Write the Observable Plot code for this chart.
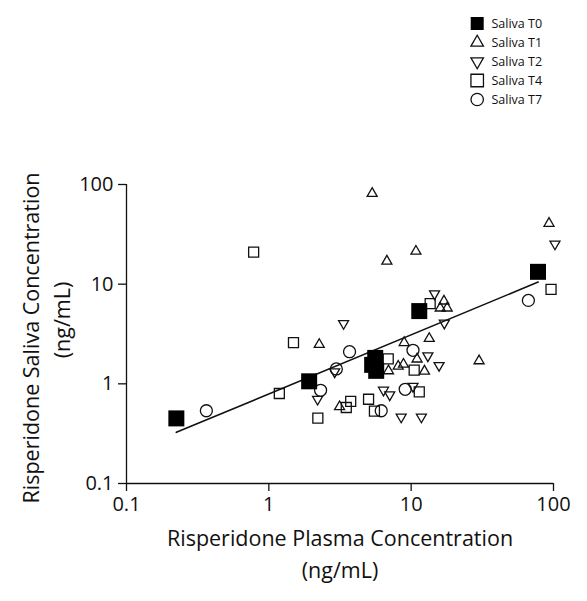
<!DOCTYPE html>
<html>
<head>
<meta charset="utf-8">
<script src="https://cdn.jsdelivr.net/npm/d3@7"></script>
<script src="https://cdn.jsdelivr.net/npm/@observablehq/plot@0.6"></script>
<style>
  html, body { margin: 0; padding: 0; background: #fff; }
  #wrap { position: relative; width: 587px; height: 601px; }
  #legend { position: absolute; left: 450px; top: 0px; line-height: 0; }
  #chart { position: absolute; left: 0; top: 0; line-height: 0; }
</style>
</head>
<body>
<div id="wrap"><div id="chart"></div><div id="legend"></div></div>
<script>
// ---- data (plasma ng/mL, saliva ng/mL) ----
const seriesNames = ["Saliva T0", "Saliva T1", "Saliva T2", "Saliva T4", "Saliva T7"];

const t0Plasma = [0.224, 1.92, 5.59, 5.32, 5.68, 11.4, 77.8];
const t0Saliva = [0.450, 1.06, 1.82, 1.55, 1.35, 5.37, 13.3];

const t1Plasma = [5.32, 10.8, 6.75, 93.0, 2.26, 30.0, 13.4, 8.93, 17.0, 16.0, 17.9, 11.0, 6.93, 8.11, 8.83, 12.4, 3.14];
const t1Saliva = [81.3, 21.4, 17.0, 40.7, 2.48, 1.70, 2.85, 2.59, 6.76, 5.75, 5.75, 1.77, 1.35, 1.50, 1.57, 1.34, 0.589];

const t2Plasma = [102.4, 3.35, 14.6, 17.1, 2.90, 2.20, 13.1, 15.7, 6.39, 7.07, 10.3, 8.51, 11.8];
const t2Saliva = [25.3, 4.03, 8.0, 4.07, 1.32, 0.70, 1.91, 1.53, 0.865, 0.776, 0.944, 0.465, 0.465];

const t4Plasma = [0.782, 96.1, 13.6, 1.49, 1.185, 2.21, 6.90, 10.5, 11.4, 5.02, 3.76, 3.50, 5.52];
const t4Saliva = [21.0, 8.85, 6.38, 2.59, 0.80, 0.452, 1.78, 1.37, 0.83, 0.70, 0.668, 0.579, 0.533];

const t7Plasma = [66.6, 0.364, 3.69, 10.3, 2.98, 2.31, 9.08, 6.16];
const t7Saliva = [6.87, 0.537, 2.10, 2.17, 1.41, 0.861, 0.881, 0.537];

// fitted line endpoints (log-log regression)
const fitPlasma = [0.224, 78];
const fitSaliva = [0.326, 10.5];

const axisTicks = [0.1, 1, 10, 100];
const axisTickLabels = ["0.1", "1", "10", "100"];
const xTitleLines = ["Risperidone Plasma Concentration", "(ng/mL)"];
const yTitleLines = ["Risperidone Saliva Concentration", "(ng/mL)"];

// ---- build ----
const zip = (xs, ys) => xs.map((x, i) => ({x, y: ys[i]}));
const t0 = zip(t0Plasma, t0Saliva);
const t1 = zip(t1Plasma, t1Saliva);
const t2 = zip(t2Plasma, t2Saliva);
const t4 = zip(t4Plasma, t4Saliva);
const t7 = zip(t7Plasma, t7Saliva);
const fit = zip(fitPlasma, fitSaliva);

const triangleDown = {
  draw(context, size) {
    const h = Math.sqrt(size / (3 * Math.sqrt(3)));
    context.moveTo(0, 2 * h);
    context.lineTo(-Math.sqrt(3) * h, -h);
    context.lineTo(Math.sqrt(3) * h, -h);
    context.closePath();
  }
};

const ink = "#111";
const font = "'Open Sans', Lato, sans-serif";
const fmt = d => axisTickLabels[axisTicks.indexOf(d)];

const sq = s => s / Math.sqrt(Math.PI);                     // square side -> r
const tri = s => Math.sqrt((Math.sqrt(3) / 4) * s * s / Math.PI); // triangle side -> r

const chart = Plot.plot({
  width: 587,
  height: 601,
  marginTop: 184,
  marginBottom: 118,
  marginLeft: 126,
  marginRight: 34,
  style: {fontFamily: font, fontSize: "20px", color: ink, background: "#fff"},
  x: {type: "log", domain: [0.1, 100]},
  y: {type: "log", domain: [0.1, 100]},
  marks: [
    Plot.axisX({ticks: axisTicks, tickFormat: fmt, tickSize: 8, tickPadding: 5, label: null, fontSize: 20, strokeWidth: 1.3}),
    Plot.axisY({ticks: axisTicks, tickFormat: fmt, tickSize: 8, tickPadding: 5, label: null, fontSize: 20, strokeWidth: 1.3}),
    Plot.ruleY([0.1], {stroke: ink, strokeWidth: 1.3}),
    Plot.ruleX([0.1], {stroke: ink, strokeWidth: 1.3}),
    Plot.line(fit, {x: "x", y: "y", stroke: ink, strokeWidth: 1.6}),
    Plot.dot(t1, {x: "x", y: "y", symbol: "triangle", r: tri(10), stroke: ink, strokeWidth: 1.3, fill: "none"}),
    Plot.dot(t2, {x: "x", y: "y", symbol: triangleDown, r: tri(10), stroke: ink, strokeWidth: 1.3, fill: "none"}),
    Plot.dot(t4, {x: "x", y: "y", symbol: "square", r: sq(10), stroke: ink, strokeWidth: 1.3, fill: "none"}),
    Plot.dot(t7, {x: "x", y: "y", symbol: "circle", r: 6, stroke: ink, strokeWidth: 1.3, fill: "none"}),
    Plot.dot(t0, {x: "x", y: "y", symbol: "square", r: sq(16), fill: "#000", stroke: "none"}),
    Plot.text([xTitleLines[0]], {frameAnchor: "bottom", dy: 62, text: d => d, fontSize: 21.5, fill: ink}),
    Plot.text([xTitleLines[1]], {frameAnchor: "bottom", dy: 94, text: d => d, fontSize: 21.5, fill: ink}),
    Plot.text([yTitleLines[0]], {frameAnchor: "left", textAnchor: "middle", dx: -94, dy: 4, rotate: -90, text: d => d, fontSize: 21.5, fill: ink}),
    Plot.text([yTitleLines[1]], {frameAnchor: "left", textAnchor: "middle", dx: -63, dy: -14, rotate: -90, text: d => d, fontSize: 21.5, fill: ink})
  ]
});
document.getElementById("chart").append(chart);

// ---- legend ----
const legendSymbols = [
  {symbol: "square", r: sq(13), fill: "#000", stroke: "none"},
  {symbol: "triangle", r: tri(12.5), fill: "none", stroke: ink},
  {symbol: triangleDown, r: tri(12.5), fill: "none", stroke: ink},
  {symbol: "square", r: sq(12.5), fill: "none", stroke: ink},
  {symbol: "circle", r: 6.2, fill: "none", stroke: ink}
];
const legend = Plot.plot({
  width: 137,
  height: 118,
  margin: 0,
  style: {fontFamily: font, fontSize: "12.5px", color: ink, background: "transparent"},
  x: {type: "identity", axis: null},
  y: {type: "point", domain: seriesNames, range: [21.7, 100.5], padding: 0, axis: null},
  marks: [
    ...seriesNames.map((name, i) => Plot.dot([name], {
      x: 26.7, y: d => d, symbol: legendSymbols[i].symbol, r: legendSymbols[i].r,
      fill: legendSymbols[i].fill, stroke: legendSymbols[i].stroke, strokeWidth: 1.3
    })),
    Plot.text(seriesNames, {x: 41, y: d => d, text: d => d, textAnchor: "start", fill: ink, fontSize: 12.5})
  ]
});
document.getElementById("legend").append(legend);
</script>
</body>
</html>
